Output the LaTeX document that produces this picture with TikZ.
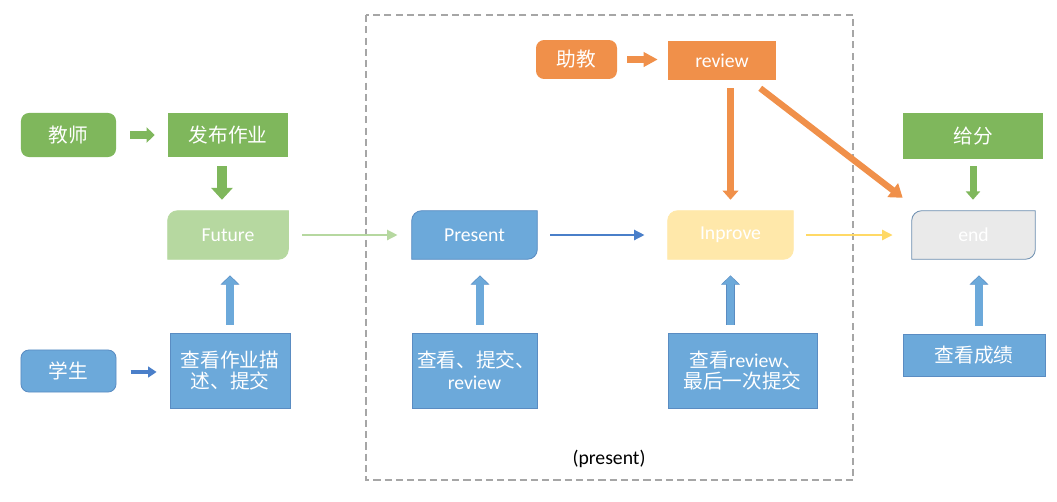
\documentclass[tikz,border=0pt]{standalone}
\usepackage{fontspec}
\setmainfont{Carlito}
\newfontfamily\cjk{Noto Sans CJK SC}
\usetikzlibrary{arrows.meta,backgrounds}
\definecolor{cgreen}{HTML}{7FB75C}
\definecolor{clgreen}{HTML}{B6D8A0}
\definecolor{cblue}{HTML}{6CA9DA}
\definecolor{cbluebd}{HTML}{5A8CC2}
\definecolor{cdblue}{HTML}{4A7FC9}
\definecolor{corange}{HTML}{F0904A}
\definecolor{cyellow}{HTML}{FFE8AA}
\definecolor{cyarrow}{HTML}{FFD966}
\definecolor{cgray}{HTML}{EAEAEA}
\definecolor{cgraybd}{HTML}{6D8FB0}
\definecolor{cdash}{HTML}{A6A6A6}
\newcommand{\diagfill}[3]{%
  \path[fill=#2,draw=#3,line width=0.6pt] (#1.south west) -- ([yshift=-7pt]#1.north west)
    arc[start angle=180,end angle=90,radius=7pt] -- (#1.north east)
    -- ([yshift=7pt]#1.south east) arc[start angle=0,end angle=-90,radius=7pt] -- cycle;}
\begin{document}
\begin{tikzpicture}[x=0.025cm,y=-0.025cm,
  box/.style={rectangle,inner sep=0pt,text=white,align=center},
  zh/.style={font=\fontsize{14}{15.5}\selectfont\cjk},
  en/.style={font=\fontsize{14}{15.5}\selectfont},
  thinarrow/.style={line width=2pt,-{Triangle[width=7pt,length=7.5pt]}},
  uparrow/.style={draw=cblue,line width=5pt,-{Triangle[width=11.4pt,length=5.8pt]}},
  uparrowbd/.style={draw=cbluebd,line width=6pt,-{Triangle[width=13pt,length=6.6pt]}}
]
\useasboundingbox (0,0) rectangle (1057,501);
% dashed frame
\draw[cdash,line width=1pt,dash pattern=on 5pt off 3pt] (366,15) rectangle (853,480);
\node[en,text=black] (lbl) at (609,459) {(present)};

% teacher row
\node[box,zh,fill=cgreen,rounded corners=5.7pt,minimum width=67.6pt,minimum height=31.3pt] (t) at (68.5,135) {教师};
\node[box,zh,fill=cgreen,minimum width=85.4pt,minimum height=31.3pt] (fb) at (228,135) {发布作业};
\node[box,en,minimum width=85.4pt,minimum height=34.1pt] (fu) at (228,235) {Future};

% student row
\node[box,zh,fill=cblue,draw=cbluebd,line width=0.6pt,rounded corners=5.7pt,minimum width=67.6pt,minimum height=29.9pt] (s) at (68.5,371) {学生};
\node[box,zh,fill=cblue,draw=cbluebd,line width=0.6pt,minimum width=85.4pt,minimum height=53.3pt] (q1) at (230,370.5) {查看作业描\\述、提交};

% assistant
\node[box,zh,fill=corange,rounded corners=5.7pt,minimum width=57.6pt,minimum height=27.7pt] (a) at (576.5,59.5) {助教};
\node[box,en,fill=corange,minimum width=76.8pt,minimum height=27.7pt] (rv) at (722,60.5) {review};

% main flow
\node[box,en,minimum width=88.9pt,minimum height=34.1pt] (pr) at (474.5,235) {Present};
\node[box,en,minimum width=88.9pt,minimum height=34.1pt] (ip) at (730.5,235) {Inprove};
\node[box,en,minimum width=87.5pt,minimum height=34.1pt] (en) at (973.5,235) {end};
\node[box,zh,fill=cgreen,minimum width=99.6pt,minimum height=32.7pt] (gf) at (973,136) {给分};

% bottom boxes
\node[box,zh,fill=cblue,draw=cbluebd,line width=0.6pt,minimum width=88.9pt,minimum height=53.3pt] (q2) at (474.5,370.5) {\,查看、提交、\\{\fontsize{14}{15.5}\selectfont\rmfamily review}};
\node[box,zh,fill=cblue,draw=cbluebd,line width=0.6pt,minimum width=106pt,minimum height=53.3pt] (q3) at (742.5,370.5) {\,\,查看{\fontsize{14}{15.5}\selectfont\rmfamily review}、\\最后一次提交};
\node[box,zh,fill=cblue,draw=cbluebd,line width=0.6pt,minimum width=101pt,minimum height=29.9pt] (q4) at (974,355) {查看成绩};

\begin{scope}[on background layer]
  \diagfill{fu}{clgreen}{clgreen}
  \diagfill{pr}{cblue}{cbluebd}
  \diagfill{ip}{cyellow}{cyellow}
  \diagfill{en}{cgray}{cgraybd}
\end{scope}

% green arrows
\draw[cgreen,line width=5pt,-{Triangle[width=10.7pt,length=5.8pt]},shorten <=10pt,shorten >=9.2pt] (t.east) -- (fb.west);
\draw[cgreen,line width=7pt,-{Triangle[width=15pt,length=8.5pt]},shorten <=6.4pt,shorten >=7.8pt] ([xshift=-4.3pt]fb.south) -- ([xshift=-4.3pt]fu.north);
\draw[cgreen,line width=5pt,-{Triangle[width=10pt,length=6pt]},shorten <=5pt,shorten >=7.8pt] (gf.south) -- (gf.south |- en.north);

% orange arrows
\draw[corange,line width=4.3pt,-{Triangle[width=10pt,length=10pt]},shorten <=7.1pt,shorten >=7.1pt] (a.east) -- (a.east -| rv.west);
\draw[corange,line width=5pt,-{Triangle[width=11pt,length=6.5pt]},shorten <=5.7pt,shorten >=7.8pt] (rv.south -| ip.north) -- (ip.north);
\draw[corange,line width=4.5pt,-{Triangle[width=12pt,length=9pt]}] ([xshift=-11.4pt,yshift=-5.7pt]rv.south east) -- ([xshift=-6.4pt,yshift=9.2pt]en.north west);

% flow arrows
\draw[clgreen,thinarrow,shorten <=10pt,shorten >=10pt] (fu.east) -- (pr.west);
\draw[cdblue,thinarrow,shorten <=9.2pt,shorten >=16.4pt] (pr.east) -- (ip.west);
\draw[cyarrow,thinarrow,shorten <=9.2pt,shorten >=13.5pt] (ip.east) -- (en.west);
\draw[cdblue,line width=3pt,-{Triangle[width=7.5pt,length=6pt]},shorten <=10pt,shorten >=9.2pt] ([yshift=-0.7pt]s.east) -- ([yshift=-0.7pt]s.east -| q1.west);

% blue up arrows
\draw[uparrowbd,shorten <=5.7pt,shorten >=11.4pt] (q1.north) -- (q1.north |- fu.south);
\draw[uparrow,shorten <=5.7pt,shorten >=12pt] (q1.north) -- (q1.north |- fu.south);
\draw[uparrowbd,shorten <=5.7pt,shorten >=11.4pt] ([xshift=3.9pt]q2.north) -- ([xshift=3.9pt]pr.south);
\draw[uparrow,shorten <=5.7pt,shorten >=12pt] ([xshift=3.9pt]q2.north) -- ([xshift=3.9pt]pr.south);
\draw[uparrowbd,shorten <=5.7pt,shorten >=11.4pt] (ip.south |- q3.north) -- (ip.south);
\draw[uparrow,shorten <=5.7pt,shorten >=12pt] (ip.south |- q3.north) -- (ip.south);
\draw[uparrowbd,shorten <=5.7pt,shorten >=11.4pt] ([xshift=3.9pt]en.south |- q4.north) -- ([xshift=3.9pt]en.south);
\draw[uparrow,shorten <=5.7pt,shorten >=12pt] ([xshift=3.9pt]en.south |- q4.north) -- ([xshift=3.9pt]en.south);
\end{tikzpicture}
\end{document}
